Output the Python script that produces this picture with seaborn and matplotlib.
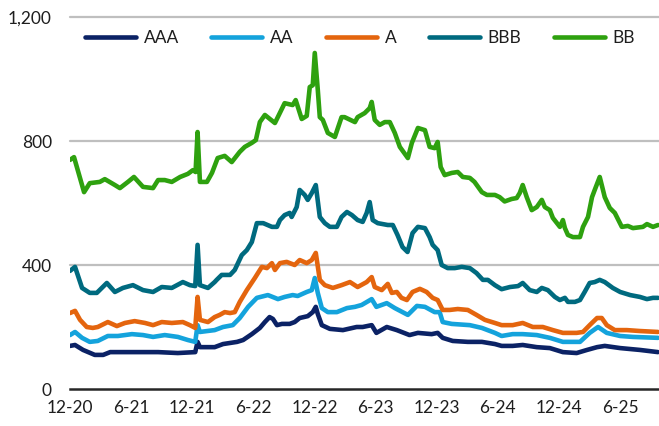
import pandas as pd
import matplotlib
matplotlib.use("Agg")
import matplotlib.pyplot as plt
from matplotlib.lines import Line2D
import seaborn as sns

# Spreads por calificación (pb)
ratings = ["AAA", "AA", "A", "BBB", "BB"]
colors = ["#0B2265", "#14A3DC", "#E4650E", "#006A7F", "#2EA10F"]

aaa = [("2020-12-01", 139), ("2020-12-16", 142), ("2021-01-09", 126), ("2021-02-13", 110),
       ("2021-03-10", 110), ("2021-03-31", 119), ("2021-06-04", 119), ("2021-08-21", 119),
       ("2021-10-19", 116), ("2021-12-10", 119), ("2021-12-17", 152), ("2021-12-24", 135),
       ("2022-02-06", 135), ("2022-03-03", 145), ("2022-04-14", 152), ("2022-05-02", 158),
       ("2022-05-28", 177), ("2022-06-21", 197), ("2022-07-06", 216), ("2022-07-20", 232),
       ("2022-07-30", 226), ("2022-08-11", 206), ("2022-08-26", 210), ("2022-09-18", 210),
       ("2022-10-03", 216), ("2022-10-18", 229), ("2022-11-11", 235), ("2022-11-26", 248),
       ("2022-12-05", 265), ("2022-12-11", 242), ("2022-12-23", 206), ("2023-01-16", 194),
       ("2023-02-24", 190), ("2023-04-06", 200), ("2023-04-24", 200), ("2023-05-21", 206),
       ("2023-06-04", 181), ("2023-07-05", 200), ("2023-08-04", 190), ("2023-09-11", 174),
       ("2023-10-06", 181), ("2023-11-16", 177), ("2023-12-04", 181), ("2023-12-19", 165),
       ("2024-01-18", 155), ("2024-03-03", 152), ("2024-04-14", 152), ("2024-05-23", 145),
       ("2024-06-12", 139), ("2024-07-15", 139), ("2024-08-14", 142), ("2024-09-25", 135),
       ("2024-11-03", 132), ("2024-12-12", 119), ("2025-01-22", 116), ("2025-02-22", 126),
       ("2025-03-24", 135), ("2025-04-16", 139), ("2025-06-01", 132), ("2025-07-30", 126),
       ("2025-09-22", 119)]

aa = [("2020-12-01", 174), ("2020-12-16", 184), ("2021-01-06", 165), ("2021-01-29", 152),
      ("2021-02-22", 155), ("2021-03-24", 171), ("2021-04-23", 171), ("2021-06-04", 177),
      ("2021-07-07", 174), ("2021-08-06", 168), ("2021-09-10", 174), ("2021-10-19", 168),
      ("2021-11-18", 158), ("2021-12-10", 152), ("2021-12-17", 206), ("2021-12-24", 184),
      ("2022-02-06", 190), ("2022-03-03", 200), ("2022-04-01", 206), ("2022-04-22", 229),
      ("2022-05-17", 265), ("2022-06-12", 294), ("2022-07-15", 303), ("2022-08-05", 294),
      ("2022-08-14", 290), ("2022-09-03", 297), ("2022-09-27", 303), ("2022-10-12", 300),
      ("2022-11-08", 313), ("2022-11-23", 319), ("2022-12-02", 358), ("2022-12-11", 310),
      ("2022-12-23", 261), ("2023-01-10", 248), ("2023-02-06", 248), ("2023-03-08", 261),
      ("2023-04-01", 265), ("2023-04-21", 271), ("2023-05-21", 290), ("2023-06-04", 265),
      ("2023-07-05", 277), ("2023-07-29", 261), ("2023-09-06", 239), ("2023-10-03", 268),
      ("2023-10-27", 265), ("2023-11-25", 248), ("2023-12-10", 248), ("2023-12-19", 216),
      ("2024-01-15", 210), ("2024-03-09", 206), ("2024-04-14", 197), ("2024-05-23", 181),
      ("2024-06-12", 171), ("2024-07-15", 177), ("2024-08-14", 177), ("2024-09-25", 174),
      ("2024-11-03", 165), ("2024-12-12", 152), ("2025-02-01", 152), ("2025-03-02", 181),
      ("2025-03-27", 200), ("2025-04-22", 181), ("2025-06-01", 171), ("2025-07-09", 168),
      ("2025-09-22", 165)]

a = [("2020-12-01", 245), ("2020-12-16", 252), ("2020-12-31", 223), ("2021-01-20", 200),
     ("2021-02-07", 197), ("2021-02-22", 200), ("2021-03-24", 216), ("2021-04-20", 203),
     ("2021-05-14", 213), ("2021-06-12", 219), ("2021-07-13", 213), ("2021-08-06", 206),
     ("2021-09-01", 216), ("2021-10-01", 213), ("2021-11-03", 216), ("2021-11-24", 206),
     ("2021-12-10", 197), ("2021-12-17", 297), ("2021-12-24", 223), ("2022-01-17", 216),
     ("2022-02-06", 232), ("2022-02-21", 239), ("2022-03-08", 248), ("2022-03-24", 245),
     ("2022-04-07", 248), ("2022-04-22", 281), ("2022-05-13", 319), ("2022-06-06", 358),
     ("2022-06-27", 394), ("2022-07-12", 390), ("2022-07-27", 406), ("2022-08-05", 384),
     ("2022-08-20", 406), ("2022-09-09", 410), ("2022-10-03", 400), ("2022-10-18", 416),
     ("2022-11-08", 406), ("2022-11-23", 416), ("2022-12-05", 439), ("2022-12-17", 352),
     ("2023-01-01", 335), ("2023-01-25", 326), ("2023-02-20", 335), ("2023-03-17", 345),
     ("2023-04-09", 329), ("2023-05-06", 345), ("2023-05-21", 361), ("2023-05-30", 329),
     ("2023-06-20", 319), ("2023-07-08", 339), ("2023-07-20", 310), ("2023-08-04", 313),
     ("2023-08-18", 294), ("2023-09-03", 287), ("2023-09-20", 313), ("2023-10-12", 323),
     ("2023-11-01", 313), ("2023-11-19", 294), ("2023-12-04", 287), ("2023-12-19", 255),
     ("2024-01-09", 255), ("2024-02-02", 258), ("2024-03-03", 255), ("2024-03-29", 239),
     ("2024-04-23", 223), ("2024-05-23", 213), ("2024-06-12", 206), ("2024-07-15", 206),
     ("2024-08-14", 213), ("2024-09-13", 200), ("2024-10-13", 200), ("2024-11-12", 190),
     ("2024-12-12", 181), ("2025-01-22", 181), ("2025-02-10", 184), ("2025-03-02", 206),
     ("2025-03-24", 229), ("2025-04-07", 229), ("2025-04-22", 206), ("2025-05-16", 190),
     ("2025-06-21", 190), ("2025-07-30", 187), ("2025-09-22", 184)]

bbb = [("2020-12-01", 381), ("2020-12-16", 394), ("2021-01-06", 326), ("2021-01-29", 310),
       ("2021-02-19", 310), ("2021-03-21", 342), ("2021-04-14", 313), ("2021-05-08", 326),
       ("2021-06-07", 335), ("2021-07-07", 319), ("2021-08-06", 313), ("2021-09-01", 329),
       ("2021-10-01", 326), ("2021-11-03", 345), ("2021-11-24", 335), ("2021-12-10", 332),
       ("2021-12-17", 465), ("2021-12-24", 335), ("2022-01-17", 326), ("2022-02-06", 345),
       ("2022-02-12", 352), ("2022-02-27", 368), ("2022-03-24", 368), ("2022-04-07", 384),
       ("2022-04-28", 432), ("2022-05-13", 448), ("2022-05-28", 474), ("2022-06-12", 535),
       ("2022-07-01", 535), ("2022-07-27", 523), ("2022-08-11", 523), ("2022-08-20", 545),
       ("2022-09-03", 561), ("2022-09-18", 568), ("2022-09-24", 555), ("2022-10-09", 587),
       ("2022-10-18", 642), ("2022-11-02", 626), ("2022-11-11", 610), ("2022-11-23", 632),
       ("2022-12-05", 658), ("2022-12-17", 555), ("2023-01-01", 535), ("2023-01-16", 523),
       ("2023-02-06", 523), ("2023-02-20", 555), ("2023-03-08", 571), ("2023-03-23", 561),
       ("2023-04-09", 545), ("2023-04-24", 539), ("2023-05-06", 568), ("2023-05-15", 603),
       ("2023-05-24", 545), ("2023-06-08", 535), ("2023-07-08", 529), ("2023-07-23", 529),
       ("2023-08-06", 497), ("2023-08-21", 458), ("2023-09-05", 442), ("2023-09-20", 503),
       ("2023-10-06", 523), ("2023-10-27", 519), ("2023-11-10", 490), ("2023-11-19", 465),
       ("2023-12-04", 448), ("2023-12-16", 400), ("2024-01-03", 390), ("2024-01-24", 390),
       ("2024-02-14", 394), ("2024-03-09", 390), ("2024-03-29", 374), ("2024-04-17", 352),
       ("2024-05-02", 352), ("2024-05-23", 335), ("2024-06-12", 322), ("2024-07-07", 329),
       ("2024-07-31", 332), ("2024-08-14", 342), ("2024-09-04", 319), ("2024-09-25", 313),
       ("2024-10-10", 326), ("2024-10-28", 319), ("2024-11-18", 297), ("2024-12-03", 287),
       ("2024-12-18", 294), ("2024-12-27", 281), ("2025-01-17", 281), ("2025-02-01", 287),
       ("2025-02-15", 313), ("2025-03-02", 342), ("2025-03-17", 345), ("2025-04-01", 352),
       ("2025-04-16", 345), ("2025-05-10", 326), ("2025-06-01", 313), ("2025-07-01", 303),
       ("2025-07-30", 297), ("2025-08-20", 290), ("2025-09-07", 294), ("2025-09-22", 294)]

bb = [("2020-12-01", 739), ("2020-12-13", 748), ("2021-01-12", 635), ("2021-01-29", 664),
      ("2021-02-28", 668), ("2021-03-15", 677), ("2021-04-14", 658), ("2021-04-29", 648),
      ("2021-05-23", 668), ("2021-06-10", 684), ("2021-07-07", 652), ("2021-08-06", 648),
      ("2021-08-21", 674), ("2021-09-10", 674), ("2021-10-01", 668), ("2021-10-26", 684),
      ("2021-11-18", 694), ("2021-12-03", 706), ("2021-12-11", 700), ("2021-12-17", 829),
      ("2021-12-24", 668), ("2022-01-14", 668), ("2022-01-29", 697), ("2022-02-15", 745),
      ("2022-03-08", 752), ("2022-03-29", 732), ("2022-04-22", 765), ("2022-05-07", 781),
      ("2022-05-28", 794), ("2022-06-09", 803), ("2022-06-21", 861), ("2022-07-06", 884),
      ("2022-08-05", 858), ("2022-09-03", 922), ("2022-09-27", 916), ("2022-10-06", 932),
      ("2022-10-24", 871), ("2022-11-08", 881), ("2022-11-17", 974), ("2022-11-26", 980),
      ("2022-12-02", 1084), ("2022-12-11", 965), ("2022-12-17", 877), ("2022-12-26", 868),
      ("2023-01-10", 826), ("2023-01-31", 813), ("2023-02-20", 877), ("2023-03-01", 877),
      ("2023-04-01", 861), ("2023-04-09", 877), ("2023-04-30", 890), ("2023-05-15", 906),
      ("2023-05-21", 926), ("2023-05-30", 868), ("2023-06-14", 852), ("2023-06-29", 861),
      ("2023-07-14", 861), ("2023-07-29", 826), ("2023-08-13", 781), ("2023-09-06", 745),
      ("2023-09-18", 794), ("2023-10-06", 842), ("2023-10-27", 835), ("2023-11-10", 781),
      ("2023-11-25", 777), ("2023-12-04", 797), ("2023-12-13", 716), ("2023-12-25", 690),
      ("2024-01-15", 697), ("2024-02-02", 700), ("2024-02-17", 684), ("2024-03-09", 681),
      ("2024-03-23", 668), ("2024-04-14", 635), ("2024-04-29", 626), ("2024-05-23", 626),
      ("2024-06-06", 619), ("2024-06-21", 605), ("2024-07-12", 613), ("2024-07-27", 616),
      ("2024-08-05", 632), ("2024-08-14", 658), ("2024-08-26", 619), ("2024-09-10", 577),
      ("2024-09-25", 587), ("2024-10-10", 610), ("2024-10-19", 587), ("2024-11-03", 577),
      ("2024-11-12", 552), ("2024-12-03", 523), ("2024-12-12", 545), ("2024-12-18", 519),
      ("2024-12-27", 497), ("2025-01-11", 490), ("2025-02-01", 490), ("2025-02-10", 523),
      ("2025-02-25", 555), ("2025-03-09", 619), ("2025-03-17", 642), ("2025-04-01", 684),
      ("2025-04-16", 619), ("2025-05-01", 584), ("2025-05-16", 568), ("2025-06-06", 523),
      ("2025-06-24", 526), ("2025-07-09", 519), ("2025-08-08", 523), ("2025-08-20", 532),
      ("2025-09-07", 523), ("2025-09-22", 529)]

x_tick_dates = ["2020-12-01", "2021-06-01", "2021-12-01", "2022-06-01", "2022-12-01",
                "2023-06-01", "2023-12-01", "2024-06-01", "2024-12-01", "2025-06-01"]
x_tick_labels = ["12-20", "6-21", "12-21", "6-22", "12-22",
                 "6-23", "12-23", "6-24", "12-24", "6-25"]
y_ticks = [0, 400, 800, 1200]
y_tick_labels = ["0", "400", "800", "1,200"]

# tabla larga para seaborn
frames = []
for name, serie in zip(ratings, [aaa, aa, a, bbb, bb]):
    d = pd.DataFrame(serie, columns=["date", "spread"])
    d["rating"] = name
    frames.append(d)
df = pd.concat(frames, ignore_index=True)
df["date"] = pd.to_datetime(df["date"])

sns.set_theme(style="white")
plt.rcParams["font.family"] = ["Lato", "DejaVu Sans"]
text_color = "#1E1E1E"
fsize = 12.5

fig = plt.figure(figsize=(6.59, 4.26), dpi=100)
ax = fig.add_axes([70 / 659, 1 - 389 / 426, 589 / 659, 372 / 426])

sns.lineplot(data=df, x="date", y="spread", hue="rating", hue_order=ratings,
             palette=colors, linewidth=3.3, estimator=None, legend=False, ax=ax,
             solid_joinstyle="round", solid_capstyle="round", zorder=3)

ax.set_xlim(pd.Timestamp("2020-12-01"), pd.Timestamp("2025-09-25"))
ax.set_ylim(0, 1200)

# rejilla horizontal
for y in y_ticks[1:]:
    ax.axhline(y, color="#BFBFBF", lw=1.6, zorder=1, clip_on=False)

for s in ["top", "right", "left"]:
    ax.spines[s].set_visible(False)
ax.spines["bottom"].set_color("#262626")
ax.spines["bottom"].set_linewidth(1.8)

ax.set_xticks(pd.to_datetime(x_tick_dates))
ax.set_xticklabels(x_tick_labels)
ax.set_yticks(y_ticks)
ax.set_yticklabels(y_tick_labels)
ax.tick_params(axis="both", length=0, labelsize=fsize, labelcolor=text_color)
ax.tick_params(axis="y", pad=13)
ax.tick_params(axis="x", pad=8)
ax.set_xlabel("")
ax.set_ylabel("")

handles = [Line2D([0], [0], color=c, lw=3.3, solid_capstyle="round") for c in colors]
leg = ax.legend(handles, ratings, loc="center left", bbox_to_anchor=(0.025, 0.944),
                ncol=5, frameon=False, fontsize=fsize, handlelength=2.95,
                handletextpad=0.45, columnspacing=1.85, borderpad=0, borderaxespad=0)
for t in leg.get_texts():
    t.set_color(text_color)

fig.savefig("out.png", dpi=100)
